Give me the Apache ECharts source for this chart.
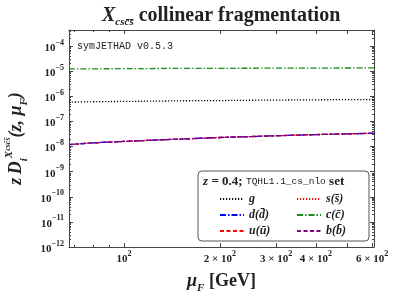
<!DOCTYPE html>
<html><head><meta charset="utf-8">
<script src="https://cdn.jsdelivr.net/npm/echarts@6/dist/echarts.min.js"></script>
<style>html,body{margin:0;padding:0;background:#fff}#c{width:396px;height:295px}</style>
</head><body><div id="c"></div>
<script>
// ---- data ----
const muF = [67.3, 80, 100, 130, 160, 200, 250, 300, 400, 500, 608];
const gVals = [5.9e-7, 6.1e-7, 6.3e-7, 6.5e-7, 6.7e-7, 6.8e-7, 7.0e-7, 7.1e-7, 7.3e-7, 7.4e-7, 7.5e-7];
const cVals = [1.24e-5, 1.25e-5, 1.27e-5, 1.29e-5, 1.30e-5, 1.31e-5, 1.32e-5, 1.33e-5, 1.34e-5, 1.35e-5, 1.36e-5];
const sVals = [1.2e-8, 1.4e-8, 1.6e-8, 1.85e-8, 2.05e-8, 2.3e-8, 2.5e-8, 2.7e-8, 3.0e-8, 3.2e-8, 3.4e-8];
const dVals = [1.2e-8, 1.4e-8, 1.6e-8, 1.85e-8, 2.05e-8, 2.3e-8, 2.5e-8, 2.7e-8, 3.0e-8, 3.2e-8, 3.4e-8];
const uVals = [1.2e-8, 1.4e-8, 1.6e-8, 1.85e-8, 2.05e-8, 2.3e-8, 2.5e-8, 2.7e-8, 3.0e-8, 3.2e-8, 3.4e-8];
const bVals = [1.2e-8, 1.4e-8, 1.6e-8, 1.85e-8, 2.05e-8, 2.3e-8, 2.5e-8, 2.7e-8, 3.0e-8, 3.2e-8, 3.4e-8];
const seriesNames = ['g', 's(s\u0304)', 'd(d\u0304)', 'c(c\u0304)', 'u(u\u0304)', 'b(b\u0304)'];
const xRange = [67.3, 608];
const yRange = [1e-12, 4.4e-4];
const xMajor = [100, 200, 300, 400, 500, 600];
const xMinor = [70, 80, 90];
const xLabelVals = [100, 200, 300, 400, 600];
const yExps = [-12, -11, -10, -9, -8, -7, -6, -5, -4];

// ---- helpers ----
const L = Math.log10;
const toPts = (xs, ys) => xs.map((x, i) => [L(x), L(ys[i])]);
const yMajorLog = yExps.slice();
const yMinorLog = [];
for (let e = -12; e <= -4; e++) for (let k = 2; k <= 9; k++) { const v = e + L(k); if (v <= L(yRange[1])) yMinorLog.push(v); }

const serif = '"Liberation Serif","DejaVu Serif",serif';
const mono = '"Liberation Mono","DejaVu Sans Mono",monospace';
const axCol = '#444';
const tc = '#222';

function xLabelFmt(v) {
  const n = Math.round(Math.pow(10, v));
  if (n === 100) return '{b|10}{s|2}';
  return '{b|' + (n / 100) + ' \u00d7 10}{s|2}';
}
function yLabelFmt(v) {
  return '{b|10}{s|\u2212' + Math.abs(Math.round(v)) + '}';
}
const labRich = {
  b: {fontFamily: serif, fontSize: 11, fontWeight: 'bold', color: tc, lineHeight: 15, verticalAlign: 'bottom'},
  s: {fontFamily: serif, fontSize: 8, fontWeight: 'bold', color: tc, lineHeight: 12, verticalAlign: 'top'}
};

function xAx(grid, pos, major, showLabel, showName) {
  return {
    type: 'value', gridIndex: grid, position: pos,
    min: L(xRange[0]), max: L(xRange[1]),
    splitLine: {show: false},
    axisLine: {show: major, lineStyle: {color: axCol, width: 1}},
    axisTick: {show: true, inside: true, length: major ? 4 : 2,
      customValues: (major ? xMajor : xMinor).map(L), lineStyle: {color: axCol}},
    axisLabel: {show: showLabel, customValues: xLabelVals.map(L), formatter: xLabelFmt, rich: labRich, margin: 3},
    name: showName ? '{m|\u03bc}{sub|F}{n| [GeV]}' : '',
    nameLocation: 'middle', nameGap: 25,
    nameTextStyle: {rich: {
      m: {fontFamily: serif, fontSize: 18, fontWeight: 'bold', fontStyle: 'italic', color: tc, lineHeight: 22, verticalAlign: 'top'},
      sub: {fontFamily: serif, fontSize: 11, fontWeight: 'bold', fontStyle: 'italic', color: tc, lineHeight: 12, verticalAlign: 'bottom'},
      n: {fontFamily: serif, fontSize: 18, fontWeight: 'bold', color: tc, lineHeight: 22, verticalAlign: 'top'}
    }}
  };
}
function yAx(grid, pos, major, showLabel, showName) {
  return {
    type: 'value', gridIndex: grid, position: pos,
    min: L(yRange[0]), max: L(yRange[1]),
    splitLine: {show: false},
    axisLine: {show: major, lineStyle: {color: axCol, width: 1}},
    axisTick: {show: true, inside: true, length: major ? 4 : 2,
      customValues: major ? yMajorLog : yMinorLog, lineStyle: {color: axCol}},
    axisLabel: {show: showLabel, customValues: yMajorLog, formatter: yLabelFmt, rich: labRich, margin: 5},
    name: showName ? '{m|z\u2009D}{sub|i}{sup|X}{sup2|csc\u0304s\u0304}{m|(z, \u03bc}{sub|F}{m|)}' : '',
    nameLocation: 'middle', nameGap: 36, nameRotate: 90,
    nameTextStyle: {rich: {
      m: {fontFamily: serif, fontSize: 18, fontWeight: 'bold', fontStyle: 'italic', color: tc, lineHeight: 26, verticalAlign: 'middle'},
      sub: {fontFamily: serif, fontSize: 11, fontWeight: 'bold', fontStyle: 'italic', color: tc, lineHeight: 12, verticalAlign: 'bottom'},
      sup: {fontFamily: serif, fontSize: 11, fontWeight: 'bold', fontStyle: 'italic', color: tc, lineHeight: 12, verticalAlign: 'top'},
      sup2: {fontFamily: serif, fontSize: 8, fontWeight: 'bold', fontStyle: 'italic', color: tc, lineHeight: 16, verticalAlign: 'top'}
    }}
  };
}

const gridBox = {left: 69, right: 22, top: 30, bottom: 48, containLabel: false, outerBoundsMode: 'none'};
const styles = [
  {color: '#000000', type: [1.2, 1.8], width: 1.3},
  {color: '#ff0000', type: [1.2, 1.8], width: 1.3},
  {color: '#0000ff', type: [6, 2, 1.5, 2], width: 1.3},
  {color: '#1a8c1a', type: [6, 2, 1.5, 2], width: 1.3},
  {color: '#ff0000', type: [4, 2.5], width: 1.3},
  {color: '#800080', type: [4, 2.5], width: 1.3}
];
const allVals = [gVals, sVals, dVals, cVals, uVals, bVals];

const series = seriesNames.map((nm, i) => ({
  name: nm, type: 'line', xAxisIndex: 0, yAxisIndex: 0,
  data: toPts(muF, allVals[i]), smooth: true, showSymbol: false, symbol: 'none',
  lineStyle: styles[i], itemStyle: {color: styles[i].color}, animation: false, z: 2 + i * 0.01
}));

const legendText = {fontFamily: serif, fontStyle: 'italic', fontWeight: 'bold', fontSize: 12, color: tc};
const legendCommon = {orient: 'vertical', top: 188, itemWidth: 24, itemHeight: 8, itemGap: 4,
  textStyle: legendText, z: 10, itemStyle: {opacity: 0}, selectedMode: false};
const chart = echarts.init(document.getElementById('c'), null, {renderer: 'canvas'});
chart.setOption({
  animation: false,
  backgroundColor: '#fff',
  title: {
    text: '{x|X}{s|csc\u0304s\u0304}{t| collinear fragmentation}',
    left: 97, top: 1,
    textStyle: {rich: {
      x: {fontFamily: serif, fontSize: 20, fontWeight: 'bold', fontStyle: 'italic', color: tc, lineHeight: 22, verticalAlign: 'top'},
      s: {fontFamily: serif, fontSize: 11, fontWeight: 'bold', fontStyle: 'italic', color: tc, lineHeight: 12, verticalAlign: 'bottom'},
      t: {fontFamily: serif, fontSize: 20, fontWeight: 'bold', color: tc, lineHeight: 22, verticalAlign: 'top'}
    }}
  },
  grid: [Object.assign({}, gridBox), Object.assign({}, gridBox)],
  xAxis: [xAx(0, 'bottom', true, true, true), xAx(0, 'top', true, false, false),
          xAx(1, 'bottom', false, false, false), xAx(1, 'top', false, false, false)],
  yAxis: [yAx(0, 'left', true, true, true), yAx(0, 'right', true, false, false),
          yAx(1, 'left', false, false, false), yAx(1, 'right', false, false, false)],
  legend: [
    Object.assign({data: ['g', 'd(d\u0304)', 'u(u\u0304)'], left: 214}, legendCommon),
    Object.assign({data: ['s(s\u0304)', 'c(c\u0304)', 'b(b\u0304)'], left: 291}, legendCommon)
  ],
  graphic: [
    {type: 'rect', shape: {x: 198, y: 171, width: 171, height: 70, r: 4},
     style: {fill: '#fff', stroke: '#555', lineWidth: 1}, z: 8},
    {type: 'text', x: 203, y: 175, z: 9,
     style: {text: '{a|z} {b|= 0.4;} {c|TQHL1.1_cs_nlo} {b|set}',
       rich: {a: {fontFamily: serif, fontStyle: 'italic', fontWeight: 'bold', fontSize: 13, fill: tc},
              b: {fontFamily: serif, fontWeight: 'bold', fontSize: 13, fill: tc},
              c: {fontFamily: mono, fontSize: 9.5, fill: tc}}}},
    {type: 'text', x: 77, y: 41, z: 9,
     style: {text: 'symJETHAD v0.5.3', fontFamily: mono, fontSize: 10, fill: tc}}
  ],
  series: series
});
</script></body></html>
